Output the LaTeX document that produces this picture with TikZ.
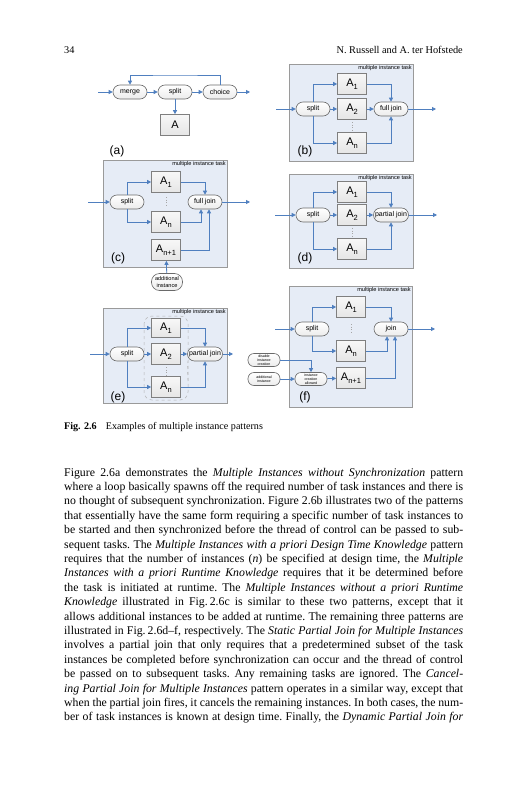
\documentclass[tikz,border=0pt]{standalone}
\usepackage{fontspec}
\setmainfont{Liberation Serif}
\newfontfamily\dsans{Liberation Sans}
\usetikzlibrary{arrows.meta,calc}
\definecolor{arrblue}{HTML}{4F7FBF}
\definecolor{panelbg}{HTML}{E6ECF6}
\definecolor{panelline}{HTML}{9A9A9A}
\definecolor{taskline}{HTML}{7F7F7F}
\definecolor{condline}{HTML}{6A6A6A}
\newcommand\Asub[1]{A\raisebox{-0.45ex}{\fontsize{7.5}{7.5}\selectfont #1}}
\newcommand\jl[1]{\par\noindent\hbox to 399pt{\frenchspacing\spaceskip=0.25em plus 1.5em minus 0.09em\relax #1}\par}
\tikzset{
 arr/.style={draw=arrblue, line width=0.8pt, -{Triangle[length=4pt,width=4pt]}},
 panel/.style={draw=panelline, fill=panelbg, line width=0.7pt},
 task/.style={draw=taskline, top color=gray!6, bottom color=gray!20, line width=0.7pt, minimum width=29pt, minimum height=21pt, inner sep=0pt, font=\dsans\fontsize{11}{12}\selectfont},
 cond/.style={draw=condline, line width=0.6pt, top color=white, bottom color=gray!15, rounded corners=7pt, minimum width=34pt, minimum height=14pt, inner sep=0pt, font=\dsans\fontsize{7}{8}\selectfont},
 tiny/.style={cond, minimum width=32pt, minimum height=13pt, rounded corners=6pt, align=center, font=\dsans\fontsize{3.6}{4}\selectfont},
 ptitle/.style={anchor=north east, inner sep=1pt, font=\dsans\fontsize{5.6}{5.6}\selectfont},
 plabel/.style={inner sep=0pt, font=\dsans\fontsize{12}{12}\selectfont},
 dots/.style={draw=gray!70, dotted, line width=0.6pt},
}
\begin{document}
\begin{tikzpicture}[x=1pt,y=-1pt]
\useasboundingbox (0,0) rectangle (527,800);
\fill[white] (0,0) rectangle (527,800);
% header
\node[anchor=base west, inner sep=0pt, font=\fontsize{10.3}{12}\selectfont] (pnum) at (64,53) {34};
\node[anchor=base east, inner sep=0pt, font=\fontsize{10.3}{12}\selectfont] (rhead) at (463,53) {N. Russell and A. ter Hofstede};

% ---------- (a)
\node[cond] (am) at (130,92) {merge};
\node[cond] (as) at (175,92) {split};
\node[cond] (ac) at (220,92) {choice};
\node[task] (aA) at (175,125) {A};
\coordinate (ain) at (98,92);
\coordinate (aout) at (250,92);
\draw[arr] (ain) -- (am);
\draw[arr] (am) -- (as);
\draw[arr] (as) -- (ac);
\draw[arr] (ac) -- (aout);
\draw[arr] (as) -- (aA);
\draw[arr] (ac.north) |- (175,75) -| (am.north);
\node[plabel] (la) at (117,151) {(a)};

% ---------- (b)
\draw[panel] (289,64) rectangle (413,161);
\node[ptitle] (tb) at (413,64) {multiple instance task};
\node[cond] (bs) at (313,109) {split};
\node[task] (bA1) at (352,84) {\Asub{1}};
\node[task] (bA2) at (352,109) {\Asub{2}};
\node[task] (bAn) at (352,143) {\Asub{n}};
\node[cond] (bj) at (391,109) {full join};
\coordinate (bin) at (276,109);
\coordinate (bout) at (436,109);
\draw[arr] (bin) -- (bs);
\draw[arr] (bs) -- (bA2);
\draw[arr] (bs.north) |- (bA1.west);
\draw[arr] (bs.south) |- (bAn.west);
\draw[arr] (bA1.east) -| (bj.north);
\draw[arr] (bA2) -- (bj);
\draw[arr] (bAn.east) -| (bj.south);
\draw[arr] (bj) -- (bout);
\draw[dots] (352,122) -- (352,131);
\node[plabel] (lb) at (305,151) {(b)};

% ---------- (c)
\draw[panel] (103,160) rectangle (227,267);
\node[ptitle] (tc) at (227,160) {multiple instance task};
\node[cond] (cs) at (127,202) {split};
\node[task] (cA1) at (166,182) {\Asub{1}};
\node[task] (cAn) at (166,222) {\Asub{n}};
\node[task] (cAn1) at (166,250) {\Asub{n+1}};
\node[cond] (cj) at (205,202) {full join};
\node[cond, minimum width=31pt, minimum height=17pt, rounded corners=8pt, align=center, font=\dsans\fontsize{5.6}{6.2}\selectfont] (cadd) at (167,282) {additional\\instance};
\coordinate (cin) at (88,202);
\coordinate (cout) at (250,202);
\draw[arr] (cin) -- (cs);
\draw[arr] (cs.north) |- (cA1.west);
\draw[arr] (cs.south) |- (cAn.west);
\draw[arr] (cA1.east) -| (cj.north);
\draw[arr] (cAn.east) -| ([xshift=-4pt]cj.south);
\draw[arr] (cAn1.east) -| ([xshift=4pt]cj.south);
\draw[arr] (cj) -- (cout);
\draw[arr] (cadd) -- (cAn1);
\draw[dots] (166,197) -- (166,207);
\node[plabel] (lc) at (118,258) {(c)};

% ---------- (d)
\draw[panel] (289,174) rectangle (413,268);
\node[ptitle] (td) at (413,174) {multiple instance task};
\node[cond] (ds) at (313,215) {split};
\node[task] (dA1) at (352,192) {\Asub{1}};
\node[task] (dA2) at (352,215) {\Asub{2}};
\node[task] (dAn) at (352,249) {\Asub{n}};
\node[cond, minimum width=35pt] (dj) at (391,215) {partial join};
\coordinate (din) at (275,215);
\coordinate (dout) at (437,215);
\draw[arr] (din) -- (ds);
\draw[arr] (ds) -- (dA2);
\draw[arr] (ds.north) |- (dA1.west);
\draw[arr] (ds.south) |- (dAn.west);
\draw[arr] (dA1.east) -| (dj.north);
\draw[arr] (dA2) -- (dj);
\draw[arr] (dAn.east) -| (dj.south);
\draw[arr] (dj) -- (dout);
\draw[dots] (352,228) -- (352,237);
\node[plabel] (ld) at (305,258) {(d)};

% ---------- (e)
\draw[panel] (103,308) rectangle (227,403);
\node[ptitle] (te) at (227,308) {multiple instance task};
\draw[draw=gray!60, dashed, line width=0.5pt, rounded corners=8pt] (144,316) rectangle (188,400);
\node[cond] (es) at (127,354) {split};
\node[task, minimum height=19pt] (eA1) at (166,328) {\Asub{1}};
\node[task] (eA2) at (166,354) {\Asub{2}};
\node[task] (eAn) at (166,387) {\Asub{n}};
\node[cond, minimum width=35pt] (ej) at (205,354) {partial join};
\coordinate (ein) at (90,354);
\coordinate (eout) at (233,354);
\coordinate (ecx) at (188,381);
\draw[arr] (ein) -- (es);
\draw[arr] (es) -- (eA2);
\draw[arr] (es.north) |- (eA1.west);
\draw[arr] (es.south) |- (eAn.west);
\draw[arr] (eA1.east) -| (ej.north);
\draw[arr] (eA2) -- (ej);
\draw[arr] (eAn.east) -| (ej.south);
\draw[arr] (ej) -- (eout);
\draw[dots] (166,367) -- (166,375);
\draw[draw=gray!60, dashed, line width=0.4pt] (ecx) -- (ej.south west);
\node[plabel] (le) at (118,397) {(e)};

% ---------- (f)
\draw[panel] (289,286) rectangle (412,407);
\node[ptitle] (tf) at (412,286) {multiple instance task};
\node[cond] (fs) at (312,329) {split};
\node[task] (fA1) at (351,307) {\Asub{1}};
\node[task] (fAn) at (351,351) {\Asub{n}};
\node[task] (fAn1) at (351,378) {\Asub{n+1}};
\node[cond] (fj) at (391,329) {join};
\node[tiny] (fdis) at (264,360) {disable\\instance\\creation};
\node[tiny] (fadd) at (264,379) {additional\\instance};
\node[tiny] (fica) at (311,379) {instance\\creation\\allowed};
\coordinate (fin) at (275,329);
\coordinate (fout) at (435,329);
\draw[arr] (fin) -- (fs);
\draw[arr] (fs.north) |- (fA1.west);
\draw[arr] (fs.south) |- (fAn.west);
\draw[arr] (fA1.east) -| (fj.north);
\draw[arr] (fAn.east) -| ([xshift=-4pt]fj.south);
\draw[arr] (fAn1.east) -| ([xshift=4pt]fj.south);
\draw[arr] (fj) -- (fout);
\draw[arr] (fdis.east) -| (fica.north);
\draw[arr] (fadd) -- (fica);
\draw[arr] (fica) -- (fAn1);
\draw[dots] (351,324) -- (351,334);
\node[plabel] (lf) at (305,397) {(f)};

% caption
\node[anchor=base west, inner sep=0pt, font=\fontsize{10.1}{12}\selectfont] (cap) at (64,429) {\textbf{Fig. 2.6}\hspace{0.9em}Examples of multiple instance patterns};

% body text
\node[anchor=north west, inner sep=0pt, text width=399pt, font=\fontsize{11.8}{14.4}\selectfont] (body) at (64,461.4) {%
\jl{\strut Figure 2.6a demonstrates the \textit{Multiple Instances without Synchronization} pattern}%
\jl{where a loop basically spawns off the required number of task instances and there is}%
\jl{no thought of subsequent synchronization. Figure 2.6b illustrates two of the patterns}%
\jl{that essentially have the same form requiring a specific number of task instances to}%
\jl{be started and then synchronized before the thread of control can be passed to sub-}%
\jl{sequent tasks. The \textit{Multiple Instances with a priori Design Time Knowledge} pattern}%
\jl{requires that the number of instances (\textit{n}) be specified at design time, the \textit{Multiple}}%
\jl{\textit{Instances with a priori Runtime Knowledge} requires that it be determined before}%
\jl{the task is initiated at runtime. The \textit{Multiple Instances without a priori Runtime}}%
\jl{\textit{Knowledge} illustrated in Fig.\,2.6c is similar to these two patterns, except that it}%
\jl{allows additional instances to be added at runtime. The remaining three patterns are}%
\jl{illustrated in Fig.\,2.6d--f, respectively. The \textit{Static Partial Join for Multiple Instances}}%
\jl{involves a partial join that only requires that a predetermined subset of the task}%
\jl{instances be completed before synchronization can occur and the thread of control}%
\jl{be passed on to subsequent tasks. Any remaining tasks are ignored. The \textit{Cancel-}}%
\jl{\textit{ing Partial Join for Multiple Instances} pattern operates in a similar way, except that}%
\jl{when the partial join fires, it cancels the remaining instances. In both cases, the num-}%
\jl{ber of task instances is known at design time. Finally, the \textit{Dynamic Partial Join for}}%
};
\end{tikzpicture}
\end{document}
